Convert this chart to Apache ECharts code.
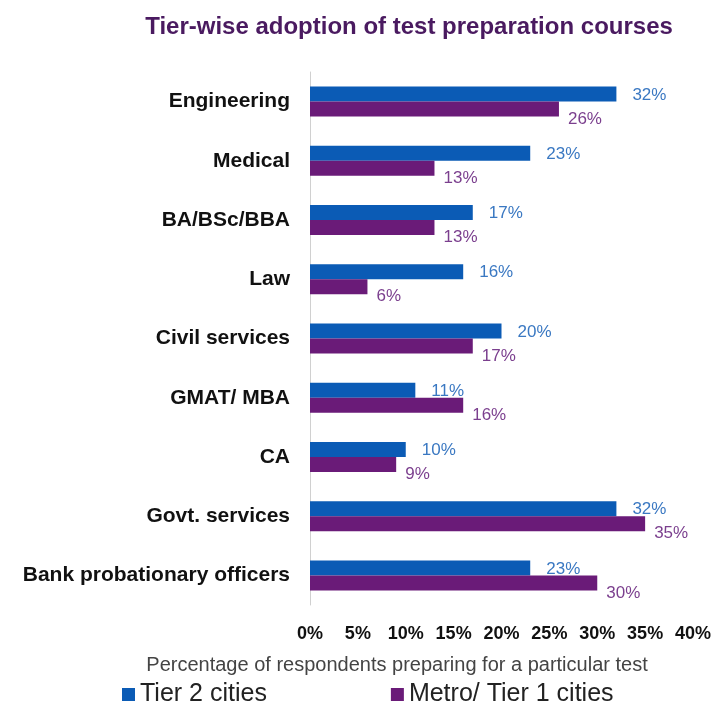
<!DOCTYPE html>
<html><head><meta charset="utf-8">
<script src="https://cdn.jsdelivr.net/npm/echarts@6/dist/echarts.min.js"></script>
<style>html,body{margin:0;padding:0;background:#fff}#c{width:715px;height:709px}</style>
</head><body><div id="c"></div>
<script>
const categories = ["Engineering","Medical","BA/BSc/BBA","Law","Civil services","GMAT/ MBA","CA","Govt. services","Bank probationary officers"];
const tier2 = [32,23,17,16,20,11,10,32,23];
const metro = [26,13,13,6,17,16,9,35,30];
const xTicks = [0,5,10,15,20,25,30,35,40];
const seriesNames = ["Tier 2 cities","Metro/ Tier 1 cities"];
const titleText = "Tier-wise adoption of test preparation courses";
const axisTitle = "Percentage of respondents preparing for a particular test";

const FONT = '"Liberation Sans", Arial, sans-serif';
const chart = echarts.init(document.getElementById('c'));
chart.setOption({
  animation:false,
  textStyle:{fontFamily:FONT},
  title:[
    {text:titleText,left:404,textAlign:'center',top:10,textStyle:{fontFamily:FONT,fontSize:24,fontWeight:'bold',color:'#4a1a60'}},
    {text:axisTitle,left:392,textAlign:'center',top:650,textStyle:{fontFamily:FONT,fontSize:20,fontWeight:'normal',color:'#444'}}
  ],
  legend:{
    data:seriesNames,
    top:677,left:117,itemGap:124,itemWidth:13,itemHeight:13,icon:'rect',
    textStyle:{fontFamily:FONT,fontSize:25,color:'#222'}
  },
  grid:{left:310,right:22,top:72,bottom:104},
  xAxis:{type:'value',min:xTicks[0],max:xTicks[xTicks.length-1],interval:5,
    axisLine:{show:false},axisTick:{show:false},splitLine:{show:false},
    axisLabel:{formatter:'{value}%',fontFamily:FONT,fontSize:18,fontWeight:'bold',color:'#111',margin:20}},
  yAxis:{type:'category',data:categories,inverse:true,
    axisLine:{show:true,lineStyle:{color:'#d0d0d0'}},axisTick:{show:false},
    axisLabel:{fontFamily:FONT,fontSize:21,fontWeight:'bold',color:'#111',margin:20}},
  series:[
    {name:seriesNames[0],type:'bar',data:tier2,barWidth:15,barGap:'0%',
     itemStyle:{color:'#0b5bb5'},
     label:{show:true,position:'right',distance:16,offset:[0,1],formatter:'{c}%',fontFamily:FONT,fontSize:17,color:'#3a78c2'}},
    {name:seriesNames[1],type:'bar',data:metro,barWidth:15,
     itemStyle:{color:'#6a1b78'},
     label:{show:true,position:'right',distance:9,offset:[0,10],formatter:'{c}%',fontFamily:FONT,fontSize:17,color:'#7b3f8e'}}
  ]
});
</script></body></html>
